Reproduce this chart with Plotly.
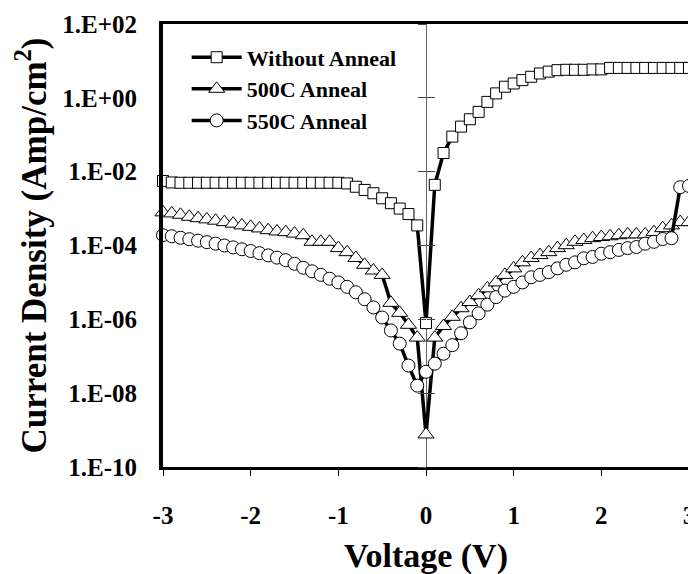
import plotly.graph_objects as go

# ---------------- data ----------------
voltage = [-3.0, -2.9, -2.8, -2.7, -2.6, -2.5, -2.4, -2.3, -2.2, -2.1,
           -2.0, -1.9, -1.8, -1.7, -1.6, -1.5, -1.4, -1.3, -1.2, -1.1,
           -1.0, -0.9, -0.8, -0.7, -0.6, -0.5, -0.4, -0.3, -0.2, -0.1,
           0.0, 0.1, 0.2, 0.3, 0.4, 0.5, 0.6, 0.7, 0.8, 0.9,
           1.0, 1.1, 1.2, 1.3, 1.4, 1.5, 1.6, 1.7, 1.8, 1.9,
           2.0, 2.1, 2.2, 2.3, 2.4, 2.5, 2.6, 2.7, 2.8, 2.9, 3.0]

without_anneal = [5.6e-3, 5.1e-3, 5.0e-3, 5.0e-3, 5.0e-3, 5.0e-3, 5.0e-3, 5.0e-3, 5.0e-3, 5.0e-3,
                  5.0e-3, 5.0e-3, 5.0e-3, 5.0e-3, 5.0e-3, 5.0e-3, 5.0e-3, 5.0e-3, 5.0e-3, 5.0e-3,
                  5.0e-3, 4.8e-3, 3.9e-3, 3.2e-3, 2.6e-3, 1.9e-3, 1.4e-3, 1.0e-3, 7.1e-4, 3.5e-4,
                  7.9e-7, 4.4e-3, 3.2e-2, 8.9e-2, 0.166, 0.263, 0.417, 0.776, 1.32, 2.0,
                  2.45, 3.02, 3.72, 4.57, 5.13, 5.62, 5.75, 5.75, 5.75, 5.89,
                  5.89, 6.46, 6.46, 6.46, 6.46, 6.46, 6.46, 6.46, 6.46, 6.46, 6.46]

anneal_500c = [7.9e-4, 7.4e-4, 6.8e-4, 6.0e-4, 5.5e-4, 5.1e-4, 4.7e-4, 4.3e-4, 3.9e-4, 3.5e-4,
               3.2e-4, 2.9e-4, 2.6e-4, 2.4e-4, 2.3e-4, 2.1e-4, 1.9e-4, 1.26e-4, 1.26e-4, 1.26e-4,
               8.5e-5, 6.6e-5, 4.6e-5, 3.0e-5, 2.1e-5, 1.6e-5, 2.8e-6, 1.5e-6, 7.1e-7, 3.2e-7,
               7.6e-10, 3.2e-7, 6.6e-7, 1.17e-6, 2.0e-6, 2.95e-6, 4.5e-6, 6.9e-6, 1.0e-5, 1.6e-5,
               2.4e-5, 3.5e-5, 4.6e-5, 5.5e-5, 6.6e-5, 8.5e-5, 1.02e-4, 1.26e-4, 1.41e-4, 1.58e-4,
               1.7e-4, 1.78e-4, 1.9e-4, 2.0e-4, 2.0e-4, 2.0e-4, 2.3e-4, 2.95e-4, 3.5e-4, 4.3e-4, 4.3e-4]

anneal_550c = [1.9e-4, 1.78e-4, 1.62e-4, 1.48e-4, 1.35e-4, 1.23e-4, 1.12e-4, 1.0e-4, 8.9e-5, 7.9e-5,
               7.1e-5, 6.2e-5, 5.4e-5, 4.7e-5, 4.0e-5, 3.2e-5, 2.5e-5, 2.0e-5, 1.6e-5, 1.26e-5,
               1.0e-5, 7.6e-6, 5.4e-6, 3.5e-6, 2.1e-6, 1.12e-6, 5.0e-7, 2.2e-7, 5.6e-8, 1.6e-8,
               3.8e-8, 6.3e-8, 1.17e-7, 2.0e-7, 4.2e-7, 8.3e-7, 1.45e-6, 2.5e-6, 4.0e-6, 6.0e-6,
               7.6e-6, 1.0e-5, 1.38e-5, 1.6e-5, 1.9e-5, 2.4e-5, 3.0e-5, 3.5e-5, 4.5e-5, 4.9e-5,
               6.0e-5, 6.6e-5, 7.6e-5, 8.5e-5, 9.1e-5, 1.12e-4, 1.26e-4, 1.5e-4, 1.58e-4, 3.8e-3, 4.1e-3]

series_names = ["Without Anneal", "500C Anneal", "550C Anneal"]

x_tick_vals = [-3, -2, -1, 0, 1, 2, 3]
x_tick_text = ["-3", "-2", "-1", "0", "1", "2", "3"]
y_tick_vals = [1e2, 1e0, 1e-2, 1e-4, 1e-6, 1e-8, 1e-10]
y_tick_text = ["1.E+02", "1.E+00", "1.E-02", "1.E-04", "1.E-06", "1.E-08", "1.E-10"]

# ---------------- styles ----------------
FONT = "Liberation Serif, Times New Roman, serif"
symbols = ["square", "triangle-up", "circle"]
sizes = [11, 14, 13]

fig = go.Figure()
for name, ys, sym, sz in zip(series_names, [without_anneal, anneal_500c, anneal_550c], symbols, sizes):
    fig.add_trace(go.Scatter(
        x=voltage, y=ys, name=name, mode="lines+markers",
        line=dict(color="black", width=3.5),
        marker=dict(symbol=sym, size=sz, color="white", line=dict(color="black", width=1)),
        cliponaxis=False,
    ))

# helper traces so the crossing-tick axes at V=0 are rendered
for ax in ["y2", "y3"]:
    fig.add_trace(go.Scatter(x=[None], y=[None], yaxis=ax, showlegend=False, hoverinfo="skip"))

cross_axis = dict(type="log", range=[-10, 2], overlaying="y", anchor="free", position=0.5,
                  tickvals=y_tick_vals, showticklabels=False, showgrid=False, showline=False,
                  zeroline=False, ticklen=8, tickwidth=1, tickcolor="#444")

fig.update_layout(
    width=696, height=574, autosize=False,
    margin=dict(l=155, r=15, t=16, b=115),
    paper_bgcolor="white", plot_bgcolor="white",
    font=dict(family=FONT, color="black"),
    showlegend=True,
    legend=dict(x=0.045, y=0.972, xanchor="left", yanchor="top",
                font=dict(family=FONT, size=22, weight="bold", color="black"),
                bgcolor="rgba(0,0,0,0)", tracegroupgap=0, itemwidth=50),
    xaxis=dict(range=[-3, 3], tickvals=x_tick_vals, ticktext=x_tick_text,
               ticks="outside", ticklen=6, tickwidth=1, tickcolor="black",
               showline=True, linewidth=3, linecolor="black", mirror=True,
               showgrid=False, zeroline=True, zerolinecolor="#666", zerolinewidth=1,
               tickfont=dict(family=FONT, size=25, weight="bold"),
               ticklabelstandoff=18, automargin=False,
               title=dict(text="Voltage (V)", font=dict(family=FONT, size=34, weight="bold"),
                          standoff=16)),
    yaxis=dict(type="log", range=[-10, 2], tickvals=y_tick_vals, ticktext=y_tick_text,
               ticks="", showline=True, linewidth=4, linecolor="black", mirror=True,
               showgrid=False, zeroline=False,
               tickfont=dict(family=FONT, size=25, weight="bold"),
               ticklabelstandoff=17, automargin=False,
               title=dict(text="Current Density (Amp/cm<sup>2</sup>)",
                          font=dict(family=FONT, size=35, weight="bold"), standoff=6)),
    yaxis2=dict(cross_axis, ticks="outside"),
    yaxis3=dict(cross_axis, ticks="inside"),
)

fig.write_html("out.html")
